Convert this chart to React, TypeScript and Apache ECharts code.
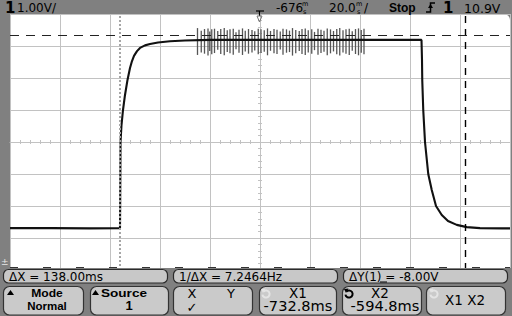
import React, { useEffect, useRef } from "react";
import * as echarts from "echarts";

// ---- scope settings ----
const DELAY_MS = -676.8; // time at screen centre
const CENTER_V = 3.5; // volts at screen centre
const TIME_PER_DIV = 20; // ms/div
const VOLTS_PER_DIV = 1; // V/div

// ---- main trace (ms, V) ----
const TRACE_T = [
  -776.8, -760, -745, -732.8, -732.72, -732.6, -732.2, -731.6, -730.8, -729.8, -728.8, -728.0,
  -727.2, -726.0, -724.8, -722.8, -720.8, -717.6, -712.8, -706.8, -696.8, -660.8, -630,
  -612.2, -612.0, -611.9, -611.5, -610.8, -609.5, -608.1, -606.4, -604.1, -601.6, -598.1,
  -594.1, -588.8, -580, -576.8,
];
const TRACE_V = [
  0.81, 0.81, 0.8, 0.81, 1.69, 3.5, 4.03, 4.5, 4.97, 5.44, 5.81, 6.03,
  6.19, 6.34, 6.44, 6.52, 6.56, 6.61, 6.65, 6.67, 6.69, 6.69, 6.69,
  6.69, 6.06, 5.44, 4.5, 3.5, 2.5, 2.0, 1.5, 1.22, 1.03, 0.91,
  0.84, 0.81, 0.8, 0.8,
];

// ---- noise burst on the high level (ms, top V, bottom V) ----
const NOISE_T = [
  -701.8, -700.3, -699.0, -697.6, -696.9, -696.1, -695.0, -693.7, -692.5, -691.1,
  -689.9, -688.8, -687.5, -686.4, -685.2, -683.8, -682.7, -681.4, -680.0, -678.9,
  -677.5, -676.4, -675.1, -673.8, -672.6, -671.2, -670.0, -668.7, -667.6, -666.2,
  -665.0, -663.8, -662.5, -661.1, -660.0, -658.7, -657.5, -656.1, -655.0, -653.6,
  -652.4, -651.2, -649.9, -648.6, -647.4, -646.1, -644.9, -643.6, -642.4, -641.1,
  -639.9, -638.6, -637.4, -636.3, -635.2,
];
const NOISE_HI = [
  7.06, 6.98, 7.03, 7.05, 6.95, 7.02, 7.04, 6.97, 7.03, 7.06,
  6.99, 7.02, 7.04, 6.93, 7.01, 7.05, 6.98, 7.03, 7.0, 6.96,
  7.04, 7.02, 6.99, 7.05, 6.97, 7.03, 7.01, 6.95, 7.04, 7.02,
  6.98, 7.06, 7.0, 6.97, 7.03, 7.05, 6.99, 7.02, 6.94, 7.04,
  7.01, 6.98, 7.05, 7.02, 6.97, 7.03, 7.06, 6.99, 7.02, 7.04,
  6.96, 7.03, 7.05, 7.0, 7.04,
];
const NOISE_LO = [
  6.22, 6.3, 6.26, 6.2, 6.34, 6.24, 6.28, 6.38, 6.25, 6.21,
  6.31, 6.27, 6.23, 6.4, 6.29, 6.22, 6.33, 6.26, 6.3, 6.36,
  6.24, 6.28, 6.32, 6.21, 6.35, 6.27, 6.25, 6.39, 6.23, 6.29,
  6.31, 6.2, 6.27, 6.34, 6.25, 6.22, 6.3, 6.26, 6.37, 6.23,
  6.28, 6.32, 6.21, 6.27, 6.33, 6.24, 6.2, 6.3, 6.26, 6.22,
  6.35, 6.25, 6.21, 6.29, 6.24,
];

// ---- cursors ----
const X1_MS = -732.8;
const X2_MS = -594.8;
const Y1_V = 6.84;
const Y2_V_SHOWN = -0.4; // clamped to the screen edge

// ---- texts ----
const MEAS_TEXTS = ["ΔX = 138.00ms", "1/ΔX = 7.2464Hz", "ΔY(1) = -8.00V"];
const SOFTKEY_TOP = ["Mode", "Source", "X", "X1", "X2", "X1 X2"];
const SOFTKEY_BOTTOM = ["Normal", "1", "✓", "-732.8ms", "-594.8ms", ""];

const GRID_C = "#c2c2c2";
const DV = "DejaVu Sans";
const LS = "Liberation Sans";

function txt(text: string, x: number, y: number, size: number, o: any = {}) {
  return {
    type: "text",
    x,
    y,
    z: o.z ?? 110,
    scaleX: o.scaleX ?? 1,
    style: {
      text,
      fill: o.fill ?? "#000",
      fontSize: size,
      fontFamily: o.family ?? DV,
      fontWeight: o.weight ?? "normal",
      align: o.align ?? "left",
      textAlign: o.align ?? "left",
      verticalAlign: "middle",
      textVerticalAlign: "middle",
    },
  };
}

function buildGraphics() {
  const g: any[] = [];
  // white screen
  g.push({
    type: "rect",
    z: -10,
    shape: { x: 10, y: 14, width: 500, height: 256, r: [0, 6, 0, 0] },
    style: { fill: "#ffffff" },
  });
  // top bar texts
  g.push(txt("1", 5, 8, 15, { weight: "bold" }));
  g.push(txt("1.00V/", 17, 8, 12));
  // time reference marker
  g.push({ type: "polyline", z: 110, shape: { points: [[256, 11], [264, 11]] }, style: { stroke: "#000", lineWidth: 1.2, fill: "none" } });
  g.push({ type: "polyline", z: 110, shape: { points: [[259.5, 11], [259.5, 16]] }, style: { stroke: "#000", lineWidth: 1.2, fill: "none" } });
  g.push({ type: "polygon", z: 110, shape: { points: [[257, 16], [262, 16], [259.5, 22]] }, style: { stroke: "#777", lineWidth: 1, fill: "none" } });
  g.push(txt("-676", 276, 8, 12));
  g.push(txt("m", 302, 4, 6.5));
  g.push(txt("s", 303, 11.5, 6.5));
  g.push(txt("20.0", 329, 8, 12));
  g.push(txt("m", 356, 4, 6.5));
  g.push(txt("s", 357, 11.5, 6.5));
  g.push(txt("/", 364, 8, 12));
  g.push(txt("Stop", 389, 8, 12, { weight: "bold", family: LS }));
  // trigger slope icon
  g.push({ type: "polyline", z: 110, shape: { points: [[426, 12], [430.5, 12], [430.5, 3], [435, 3]] }, style: { stroke: "#000", lineWidth: 1.5, fill: "none" } });
  g.push({ type: "polygon", z: 110, shape: { points: [[428, 8], [430.5, 4], [433, 8]] }, style: { fill: "#000" } });
  g.push(txt("1", 443, 8, 15, { weight: "bold" }));
  g.push(txt("10.9V", 464, 8, 12.5));
  // channel ground marker
  g.push(txt("±", 1, 262, 9, { fill: "#e8e8e8" }));

  // bottom panel
  g.push({ type: "rect", z: 100, shape: { x: 0, y: 268, width: 512, height: 48 }, style: { fill: "#808080" } });
  const boxes = [
    [3, 167],
    [173, 337],
    [343, 507],
  ];
  boxes.forEach(([a, b], i) => {
    g.push({
      type: "rect",
      z: 105,
      shape: { x: a + 0.5, y: 269.5, width: b - a, height: 13.5, r: 5 },
      style: { fill: "#c8c8c8", stroke: "#2b2b2b", lineWidth: 1.2 },
    });
    g.push(txt(MEAS_TEXTS[i], a + 6, 276.5, 12));
  });
  // underline under channel number in ΔY(1)
  g.push({ type: "line", z: 110, shape: { x1: 380, y1: 282, x2: 387, y2: 282 }, style: { stroke: "#000", lineWidth: 1 } });

  const keys = [
    [3, 83],
    [90, 168],
    [173, 252],
    [259, 336],
    [342, 421],
    [426, 505],
  ];
  keys.forEach(([a, b]) => {
    g.push({
      type: "rect",
      z: 105,
      shape: { x: a + 0.5, y: 286.5, width: b - a, height: 28.5, r: 6 },
      style: { fill: "#cacaca", stroke: "#333333", lineWidth: 1.2 },
    });
  });
  // softkey 1 & 2
  g.push({ type: "polygon", z: 110, shape: { points: [[7, 295], [10.5, 290], [14, 295]] }, style: { fill: "#000" } });
  g.push(txt(SOFTKEY_TOP[0], 47, 293, 11.5, { weight: "bold", family: LS, align: "center", scaleX: 1.05 }));
  g.push(txt(SOFTKEY_BOTTOM[0], 47, 305.5, 11.5, { weight: "bold", family: LS, align: "center" }));
  g.push({ type: "polygon", z: 110, shape: { points: [[92, 295], [95.5, 290], [99, 295]] }, style: { fill: "#000" } });
  g.push(txt(SOFTKEY_TOP[1], 124, 293, 11.5, { weight: "bold", family: LS, align: "center", scaleX: 1.18 }));
  g.push(txt(SOFTKEY_BOTTOM[1], 129, 305.5, 13, { weight: "bold", family: LS, align: "center" }));
  // softkey 3
  g.push(txt(SOFTKEY_TOP[2], 192, 293.5, 13, { align: "center" }));
  g.push(txt("Y", 231, 293.5, 13, { align: "center" }));
  g.push(txt(SOFTKEY_BOTTOM[2], 192, 307, 13, { align: "center" }));
  // cursor keys
  const icon = (cx: number, cy: number, col: string) => {
    g.push({
      type: "arc",
      z: 110,
      shape: { cx, cy, r: 3.6, startAngle: Math.PI * 1.25, endAngle: Math.PI * 0.95, clockwise: true },
      style: { stroke: col, lineWidth: 2, fill: "none" },
    });
    g.push({ type: "polygon", z: 110, shape: { points: [[cx - 5, cy - 5], [cx - 0.5, cy - 5.5], [cx - 3, cy - 1]] }, style: { fill: col } });
  };
  icon(266, 294, "#e4e4e4");
  icon(349, 294, "#000");
  icon(434, 294, "#e4e4e4");
  g.push(txt(SOFTKEY_TOP[3], 298, 293, 13.5, { align: "center" }));
  g.push(txt(SOFTKEY_BOTTOM[3], 298, 306, 13.5, { align: "center", scaleX: 1.08 }));
  g.push(txt(SOFTKEY_TOP[4], 380, 293, 13.5, { align: "center" }));
  g.push(txt(SOFTKEY_BOTTOM[4], 385, 306, 13.5, { align: "center", scaleX: 1.08 }));
  g.push(txt(SOFTKEY_TOP[5], 465, 300, 13.5, { align: "center" }));
  return g;
}

export default function App() {
  const ref = useRef<HTMLDivElement>(null);
  useEffect(() => {
    if (!ref.current) return;
    const chart = echarts.init(ref.current, undefined, { renderer: "svg" });
    const tMin = -5 * TIME_PER_DIV;
    const tMax = 5 * TIME_PER_DIV;
    const vMin = -4 * VOLTS_PER_DIV;
    const vMax = 4 * VOLTS_PER_DIV;
    const xAxisBase = {
      type: "value",
      min: tMin,
      max: tMax,
      interval: TIME_PER_DIV,
      axisLabel: { show: false },
      minorSplitLine: { show: false },
    };
    const yAxisBase = {
      type: "value",
      min: vMin,
      max: vMax,
      interval: VOLTS_PER_DIV,
      axisLabel: { show: false },
      minorSplitLine: { show: false },
    };
    const tickLine = { color: GRID_C, width: 1 };
    const option: any = {
      animation: false,
      backgroundColor: "#808080",
      grid: { left: 10, top: 14, width: 500, height: 256, show: false },
      xAxis: [
        {
          ...xAxisBase,
          axisLine: { show: true, onZero: true, lineStyle: tickLine },
          axisTick: { show: true, inside: false, length: 2, lineStyle: tickLine },
          minorTick: { show: true, splitNumber: 5, length: 2, lineStyle: tickLine },
          splitLine: { show: true, lineStyle: tickLine },
        },
        {
          ...xAxisBase,
          position: "bottom",
          axisLine: { show: false, onZero: true },
          axisTick: { show: true, inside: true, length: 2, lineStyle: tickLine },
          minorTick: { show: true, splitNumber: 5, length: 2, lineStyle: tickLine },
          splitLine: { show: false },
        },
      ],
      yAxis: [
        {
          ...yAxisBase,
          axisLine: { show: true, onZero: true, lineStyle: tickLine },
          axisTick: { show: true, inside: false, length: 2, lineStyle: tickLine },
          minorTick: { show: true, splitNumber: 5, length: 2, lineStyle: tickLine },
          splitLine: { show: true, lineStyle: tickLine },
        },
        {
          ...yAxisBase,
          position: "left",
          axisLine: { show: false, onZero: true },
          axisTick: { show: true, inside: true, length: 2, lineStyle: tickLine },
          minorTick: { show: true, splitNumber: 5, length: 2, lineStyle: tickLine },
          splitLine: { show: false },
        },
      ],
      graphic: { elements: buildGraphics() },
      series: [
        {
          type: "custom",
          xAxisIndex: 0,
          yAxisIndex: 0,
          z: 2,
          clip: true,
          silent: true,
          encode: { x: 0, y: [1, 2] },
          data: NOISE_T.map((t, i) => [t - DELAY_MS, NOISE_HI[i] - CENTER_V, NOISE_LO[i] - CENTER_V]),
          renderItem: (params: any, api: any) => {
            const p1 = api.coord([api.value(0), api.value(1)]);
            const p2 = api.coord([api.value(0), api.value(2)]);
            return {
              type: "line",
              shape: { x1: p1[0], y1: p1[1], x2: p2[0], y2: p2[1] },
              style: { stroke: "#555555", lineWidth: 1.3 },
            };
          },
        },
        {
          type: "line",
          xAxisIndex: 0,
          yAxisIndex: 0,
          z: 3,
          silent: true,
          showSymbol: false,
          symbol: "none",
          data: TRACE_T.map((t, i) => [t - DELAY_MS, TRACE_V[i] - CENTER_V]),
          lineStyle: { color: "#111111", width: 2.1 },
          markLine: {
            silent: true,
            symbol: ["none", "none"],
            label: { show: false },
            data: [
              { xAxis: X1_MS - DELAY_MS, lineStyle: { color: "#a6a6a6", type: [2, 2], width: 2 } },
              { xAxis: X2_MS - DELAY_MS, lineStyle: { color: "#000000", type: [7, 6], width: 1.4 } },
              { yAxis: Y1_V - CENTER_V, lineStyle: { color: "#222222", type: [9, 7], width: 1 } },
              { yAxis: Y2_V_SHOWN - CENTER_V, lineStyle: { color: "#333333", type: [8, 25], width: 1 } },
            ],
          },
        },
      ],
    };
    chart.setOption(option);
    return () => chart.dispose();
  }, []);
  return (
    <div
      ref={ref}
      style={{ position: "absolute", left: 0, top: 0, width: 512, height: 316 }}
    />
  );
}
